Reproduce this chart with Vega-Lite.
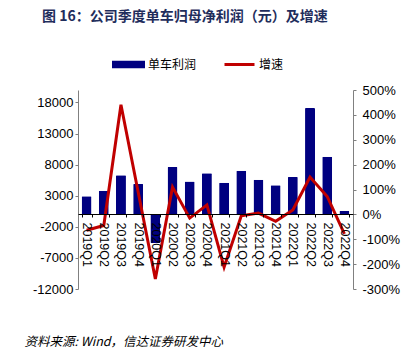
{
  "$schema": "https://vega.github.io/schema/vega-lite/v6.json",
  "width": 275,
  "height": 199,
  "autosize": {"type": "none"},
  "padding": {"left": 78, "top": 90, "right": 63, "bottom": 75},
  "background": "white",
  "title": {
    "text": "图 16：公司季度单车归母净利润（元）及增速",
    "anchor": "start",
    "frame": "group",
    "dx": -36,
    "offset": 24,
    "font": "Noto Sans CJK SC",
    "fontSize": 14,
    "letterSpacing": 1.1,
    "fontWeight": "bold",
    "color": "#1F2D5C"
  },
  "config": {
    "view": {"stroke": null},
    "axis": {"labelFont": "Liberation Sans", "labelColor": "#000000", "grid": false}
  },
  "data": {
    "values": [
      {"q": "2019Q1", "profit": 2900, "growth": -0.64},
      {"q": "2019Q2", "profit": 3800, "growth": -0.45},
      {"q": "2019Q3", "profit": 6300, "growth": 4.41},
      {"q": "2019Q4", "profit": 4900, "growth": 0.90},
      {"q": "2020Q1", "profit": -4600, "growth": -2.60},
      {"q": "2020Q2", "profit": 7600, "growth": 1.10},
      {"q": "2020Q3", "profit": 5300, "growth": -0.15},
      {"q": "2020Q4", "profit": 6600, "growth": 0.38},
      {"q": "2021Q1", "profit": 5100, "growth": -2.12},
      {"q": "2021Q2", "profit": 7000, "growth": -0.06},
      {"q": "2021Q3", "profit": 5560, "growth": 0.05},
      {"q": "2021Q4", "profit": 4700, "growth": -0.28},
      {"q": "2022Q1", "profit": 6000, "growth": 0.18},
      {"q": "2022Q2", "profit": 17100, "growth": 1.50},
      {"q": "2022Q3", "profit": 9260, "growth": 0.72},
      {"q": "2022Q4", "profit": 600, "growth": -0.78}
    ]
  },
  "encoding": {
    "x": {
      "field": "q",
      "type": "nominal",
      "sort": null,
      "scale": {"paddingInner": 0.42, "paddingOuter": 0.21},
      "axis": {
        "orient": "bottom",
        "offset": -75,
        "labelAngle": 90,
        "labelFontSize": 12.5,
        "labelPadding": 5,
        "tickSize": 3,
        "tickBand": "extent",
        "tickColor": "#000000",
        "domainColor": "#000000",
        "zindex": 1,
        "title": "资料来源: Wind，信达证券研发中心",
        "titleFont": "Noto Sans CJK SC",
        "titleFontSize": 12.5,
        "titleFontStyle": "italic",
        "titleFontWeight": "normal",
        "titleColor": "#000000",
        "titleAlign": "left",
        "titleBaseline": "middle",
        "titleAngle": 0,
        "titleX": -54,
        "titleY": 127
      }
    }
  },
  "layer": [
    {
      "mark": {"type": "bar", "cornerRadius": 1},
      "encoding": {
        "y": {
          "field": "profit",
          "type": "quantitative",
          "scale": {"domain": [-12000, 20000], "nice": false, "zero": false},
          "axis": {
            "orient": "left",
            "values": [-12000, -7000, -2000, 3000, 8000, 13000, 18000],
            "labelExpr": "replace(format(datum.value, 'd'), '\u2212', '-')",
            "labelFontSize": 13,
            "labelPadding": 2,
            "tickSize": 3,
            "tickColor": "#808080",
            "domainColor": "#808080",
            "title": null
          }
        },
        "color": {
          "datum": "单车利润",
          "scale": {"range": ["#000080"]},
          "legend": {
            "orient": "none",
            "legendX": 34,
            "legendY": -42,
            "title": null,
            "padding": 0,
            "symbolType": "M-1,-0.22H1V0.22H-1Z",
            "symbolSize": 1089,
            "symbolStrokeWidth": 0,
            "labelFont": "Noto Sans CJK SC",
            "labelFontSize": 12,
            "labelColor": "#000000",
            "labelOffset": 3
          }
        }
      }
    },
    {
      "mark": {"type": "line", "strokeWidth": 3, "strokeJoin": "miter"},
      "encoding": {
        "y": {
          "field": "growth",
          "type": "quantitative",
          "scale": {"domain": [-3, 5], "nice": false, "zero": false},
          "axis": {
            "orient": "right",
            "values": [-3, -2, -1, 0, 1, 2, 3, 4, 5],
            "labelExpr": "replace(format(datum.value, '.0%'), '\u2212', '-')",
            "labelFontSize": 13,
            "labelPadding": 6,
            "tickSize": 3,
            "tickColor": "#808080",
            "domainColor": "#808080",
            "title": null
          }
        },
        "stroke": {
          "datum": "增速",
          "scale": {"range": ["#C00000"]},
          "legend": {
            "orient": "none",
            "legendX": 145,
            "legendY": -42,
            "title": null,
            "padding": 0,
            "symbolType": "stroke",
            "symbolSize": 900,
            "symbolStrokeWidth": 3,
            "labelFont": "Noto Sans CJK SC",
            "labelFontSize": 12,
            "labelColor": "#000000",
            "labelOffset": 3
          }
        }
      }
    }
  ],
  "resolve": {"scale": {"y": "independent", "color": "independent", "stroke": "independent"}}
}
